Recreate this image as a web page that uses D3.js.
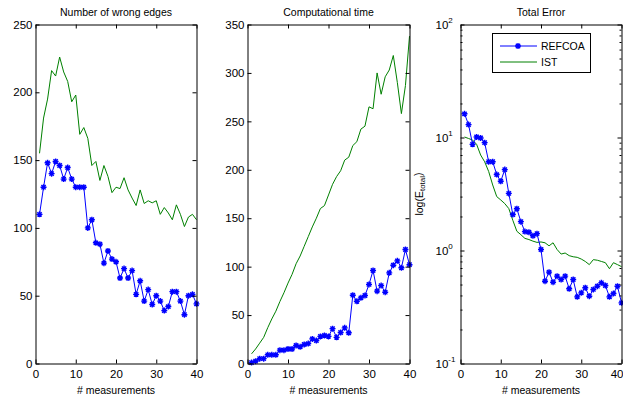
<!DOCTYPE html>
<html><head><meta charset="utf-8">
<script src="https://cdn.jsdelivr.net/npm/d3@7"></script>
<style>
body{margin:0;background:#fff}
svg{display:block}
text{font-family:"Liberation Sans",Arial,Helvetica,sans-serif;fill:#000}
</style>
</head><body>
<svg id="chart" width="623" height="403"></svg>
<script>
// ---------------- data ----------------
const measurements = d3.range(1, 41);

const wrongREFCOA = [110,130,148,140,149,146,136,144.5,136,130,
                     130,130,100,106,89,88,74,83,77,75,
                     63,70,63,68.5,51,61,46,54.5,43.5,50,
                     46,39,42,53,53,46,36,50,51,44];
const wrongIST    = [155,181,195,216,212,226,215,208,193,198,
                     169,174,166,146,149,135,146,138,126,130,
                     129,137,128,122,116.5,128,118,120,118.5,120,
                     110,115,111,106,117,110,101,108,110,106];

const timeREFCOA  = [1,2.4,5,5,9,9,9,13.8,13.8,15,
                     15,18.6,17.2,19.6,20.6,25.4,23.7,28,29,28,
                     36,27,32,36.8,31.7,70.5,64.3,67.8,70.2,81.6,
                     96,74.7,80.5,73.6,93.6,101.5,106,98.8,117.7,102];
const timeIST     = [10,15,21,27,37,46,54,64,73,83,
                     92,103,111,121,131,141,150,160,163,174,
                     185,193,199,210,213,225,229,242,245,265,
                     263,300,278,296,303,318,290,258,287,338];

const errREFCOA   = [16.2,13.0,8.7,10.1,9.9,9.0,6.1,6.1,4.7,4.1,
                     5.2,3.2,2.08,2.34,1.8,1.47,1.45,1.35,1.41,1.02,
                     0.535,0.643,0.524,0.593,0.554,0.593,0.458,0.554,0.389,0.422,
                     0.468,0.394,0.452,0.483,0.518,0.49,0.389,0.416,0.483,0.344];
const errIST      = [10.1,9.8,9.5,8.7,7.0,6.1,5.0,3.8,3.0,2.8,
                     2.6,2.35,1.85,1.48,1.38,1.28,1.25,1.21,1.18,1.19,
                     1.17,1.1,1.17,1.02,0.93,0.95,0.9,0.88,0.87,0.84,
                     0.8,0.75,0.83,0.82,0.8,0.78,0.69,0.78,0.75,0.72];

const panelTitles = ["Number of wrong edges", "Computational time", "Total Error"];
const xLabel = "# measurements";
const xTicks = [0, 10, 20, 30, 40];
const yTicksWrong = [0, 50, 100, 150, 200, 250];
const yTicksTime = [0, 50, 100, 150, 200, 250, 300, 350];
const logExponents = [-1, 0, 1, 2];
const legendLabels = ["REFCOA", "IST"];

// ---------------- layout ----------------
const svg = d3.select("#chart");
const TOP = 24.5, BOTTOM = 363.5;
const BLUE = "#0000ff", GREEN = "#008000";
const TICK_FONT = 11.5, LABEL_FONT = 10.5;

const panels = [
  {left: 35.5,  right: 196.5, title: panelTitles[0], ref: wrongREFCOA, ist: wrongIST, log: false, domain: [0, 250], ticks: yTicksWrong},
  {left: 247.5, right: 409.5, title: panelTitles[1], ref: timeREFCOA,  ist: timeIST,  log: false, domain: [0, 350], ticks: yTicksTime},
  {left: 460.5, right: 621.5, title: panelTitles[2], ref: errREFCOA,   ist: errIST,   log: true,  domain: [0.1, 100]}
];

function asterisk(r) {
  const a = r * 0.72;
  return `M${-r},0L${r},0M0,${-r}L0,${r}M${-a},${-a}L${a},${a}M${-a},${a}L${a},${-a}`;
}

panels.forEach((p, i) => {
  const x = d3.scaleLinear().domain([0, 40]).range([p.left, p.right]);
  const y = p.log
    ? d3.scaleLog().domain(p.domain).range([BOTTOM, TOP])
    : d3.scaleLinear().domain(p.domain).range([BOTTOM, TOP]);

  const g = svg.append("g");

  // lines
  const line = d3.line().x((d, k) => x(measurements[k])).y(d => y(d));
  g.append("path").datum(p.ist).attr("d", line)
    .attr("fill", "none").attr("stroke", GREEN).attr("stroke-width", 1);
  g.append("path").datum(p.ref).attr("d", line)
    .attr("fill", "none").attr("stroke", BLUE).attr("stroke-width", 1);
  g.selectAll(".mk").data(p.ref).enter().append("path")
    .attr("transform", (d, k) => `translate(${x(measurements[k])},${y(d)})`)
    .attr("d", asterisk(3)).attr("stroke", BLUE).attr("stroke-width", 1.4).attr("fill", "none");

  // axes (inward ticks, MATLAB box)
  const bottomAx = g.append("g").attr("transform", `translate(0,${BOTTOM})`)
    .call(d3.axisBottom(x).tickValues(xTicks).tickFormat(d3.format("d"))
      .tickSizeInner(-4).tickSizeOuter(0).tickPadding(6));
  if (p.log) {
    // keep the last tick label inside the window
    bottomAx.selectAll(".tick text").filter(d => d === 40)
      .attr("text-anchor", "end").attr("x", 623 - x(40));
  }
  const topAx = g.append("g").attr("transform", `translate(0,${TOP})`)
    .call(d3.axisTop(x).tickValues(xTicks).tickFormat("")
      .tickSizeInner(-4).tickSizeOuter(0));

  let leftAx, rightAx;
  if (!p.log) {
    leftAx = g.append("g").attr("transform", `translate(${p.left},0)`)
      .call(d3.axisLeft(y).tickValues(p.ticks).tickFormat(d3.format("d"))
        .tickSizeInner(-4).tickSizeOuter(0).tickPadding(3));
    rightAx = g.append("g").attr("transform", `translate(${p.right},0)`)
      .call(d3.axisRight(y).tickValues(p.ticks).tickFormat("")
        .tickSizeInner(-4).tickSizeOuter(0));
  } else {
    const majors = logExponents.map(e => Math.pow(10, e));
    const minors = [];
    logExponents.slice(0, -1).forEach(e => { for (let m = 2; m <= 9; m++) minors.push(m * Math.pow(10, e)); });
    leftAx = g.append("g").attr("transform", `translate(${p.left},0)`)
      .call(d3.axisLeft(y).tickValues(majors).tickFormat("")
        .tickSizeInner(-4).tickSizeOuter(0));
    rightAx = g.append("g").attr("transform", `translate(${p.right},0)`)
      .call(d3.axisRight(y).tickValues(majors).tickFormat("")
        .tickSizeInner(-4).tickSizeOuter(0));
    g.append("g").attr("transform", `translate(${p.left},0)`)
      .call(d3.axisLeft(y).tickValues(minors).tickFormat("")
        .tickSizeInner(-2).tickSizeOuter(0)).select(".domain").remove();
    g.append("g").attr("transform", `translate(${p.right},0)`)
      .call(d3.axisRight(y).tickValues(minors).tickFormat("")
        .tickSizeInner(-2).tickSizeOuter(0)).select(".domain").remove();
    // labels 10^e
    const lab = g.selectAll(".loglab").data(logExponents).enter().append("text")
      .attr("x", p.left - 25).attr("y", e => y(Math.pow(10, e)))
      .attr("dy", "0.36em").attr("font-size", TICK_FONT);
    lab.append("tspan").text("10");
    lab.append("tspan").attr("dy", "-0.75em").attr("font-size", 8).text(e => String(e));
  }

  g.selectAll(".tick text").attr("font-size", TICK_FONT).attr("font-family", null).attr("fill", "#000");
  g.selectAll(".domain, .tick line").attr("stroke", "#000").attr("stroke-width", 1);

  // title
  g.append("text").attr("x", (p.left + p.right) / 2).attr("y", 16)
    .attr("text-anchor", "middle").attr("font-size", LABEL_FONT).text(p.title);
  // x label
  g.append("text").attr("x", (p.left + p.right) / 2).attr("y", 394)
    .attr("text-anchor", "middle").attr("font-size", LABEL_FONT).text(xLabel);

  if (p.log) {
    // y label log(E_total)
    const yl = g.append("text").attr("transform", `translate(${p.left - 38},${(TOP + BOTTOM) / 2}) rotate(-90)`)
      .attr("text-anchor", "middle").attr("font-size", LABEL_FONT);
    yl.append("tspan").text("log(E");
    yl.append("tspan").attr("font-size", 8).attr("dy", "0.3em").text("total");
    yl.append("tspan").attr("dy", "-0.3em").text(")");

    // legend
    const lg = g.append("g");
    lg.append("rect").attr("x", 492.5).attr("y", 33.5).attr("width", 98).attr("height", 39)
      .attr("fill", "#fff").attr("stroke", "#000").attr("stroke-width", 1);
    const rows = [{c: BLUE, m: true}, {c: GREEN, m: false}];
    rows.forEach((r, k) => {
      const ly = 46 + k * 16;
      lg.append("line").attr("x1", 500).attr("x2", 537).attr("y1", ly).attr("y2", ly)
        .attr("stroke", r.c).attr("stroke-width", 1);
      if (r.m) lg.append("path").attr("transform", `translate(518,${ly})`).attr("d", asterisk(3))
        .attr("stroke", r.c).attr("stroke-width", 1.4).attr("fill", "none");
      lg.append("text").attr("x", 541).attr("y", ly).attr("dy", "0.36em")
        .attr("font-size", LABEL_FONT).text(legendLabels[k]);
    });
  }
});
</script>
</body></html>
